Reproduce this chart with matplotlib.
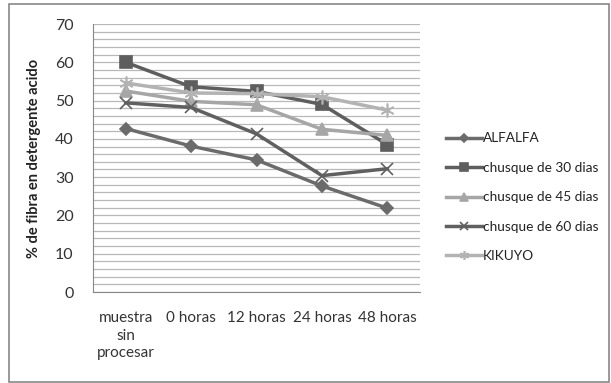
import matplotlib
matplotlib.use("Agg")
import matplotlib.pyplot as plt
from matplotlib.patches import Rectangle
from matplotlib.ticker import MultipleLocator

plt.rcParams['font.family'] = ['Lato', 'DejaVu Sans']

categories = ["muestra\nsin\nprocesar", "0 horas", "12 horas", "24 horas", "48 horas"]
alfalfa = [42.7, 38.1, 34.5, 27.7, 21.9]
chusque_30 = [60.0, 53.6, 52.4, 49.0, 38.5]
chusque_45 = [52.5, 49.8, 48.9, 42.5, 40.9]
chusque_60 = [49.4, 48.2, 41.3, 30.4, 32.2]
kikuyo = [54.6, 52.0, 51.8, 51.0, 47.5]

series = [
    ("ALFALFA", alfalfa, "#6b6b6b", "D", 6.5),
    ("chusque de 30 dias", chusque_30, "#5e5e5e", "s", 8),
    ("chusque de 45 dias", chusque_45, "#a6a6a6", "^", 8),
    ("chusque de 60 dias", chusque_60, "#606060", "x", 9),
    ("KIKUYO", kikuyo, "#b3b3b3", (6, 2, 0), 10),
]

fig = plt.figure(figsize=(6.11, 3.83), dpi=100)
fig.patches.append(Rectangle((9 / 611, 1 / 383), 600 / 611, 378 / 383,
                             transform=fig.transFigure, fill=False,
                             edgecolor="#888888", linewidth=1.2))
ax = fig.add_axes([93 / 611, 91 / 383, 327 / 611, 268 / 383])

x = list(range(len(categories)))
for name, vals, color, marker, ms in series:
    ax.plot(x, vals, color=color, linewidth=2.5, marker=marker, markersize=ms,
            markeredgewidth=1.2, markeredgecolor=color, label=name)

ax.set_xlim(-0.5, len(categories) - 0.5)
ax.set_ylim(0, 70)
ax.yaxis.set_major_locator(MultipleLocator(10))
ax.yaxis.set_minor_locator(MultipleLocator(2))
ax.grid(which="both", axis="y", color="#b8b8b8", linewidth=0.9)
ax.set_axisbelow(True)
ax.set_xticks(x)
ax.set_xticklabels(categories, fontsize=11, color="#333333", linespacing=1.3)
ax.tick_params(axis="x", length=0, pad=14)
ax.tick_params(axis="y", which="both", length=0, labelsize=11.5, labelcolor="#333333", pad=14)
for side in ["top", "right"]:
    ax.spines[side].set_visible(False)
ax.spines["left"].set_color("#888888")
ax.spines["bottom"].set_color("#888888")
ax.set_ylabel("% de fibra en detergente acido", fontsize=10.5, fontweight="bold",
              color="#222222", labelpad=10)

leg = fig.legend(loc="upper left", bbox_to_anchor=(441 / 611, 1 - 127 / 383),
                 frameon=False, fontsize=9.8, handlelength=2.6, handletextpad=0.1,
                 labelspacing=1.28, borderaxespad=0, markerscale=0.65)
for t in leg.get_texts():
    t.set_color("#222222")

fig.savefig("out.png", dpi=100)
